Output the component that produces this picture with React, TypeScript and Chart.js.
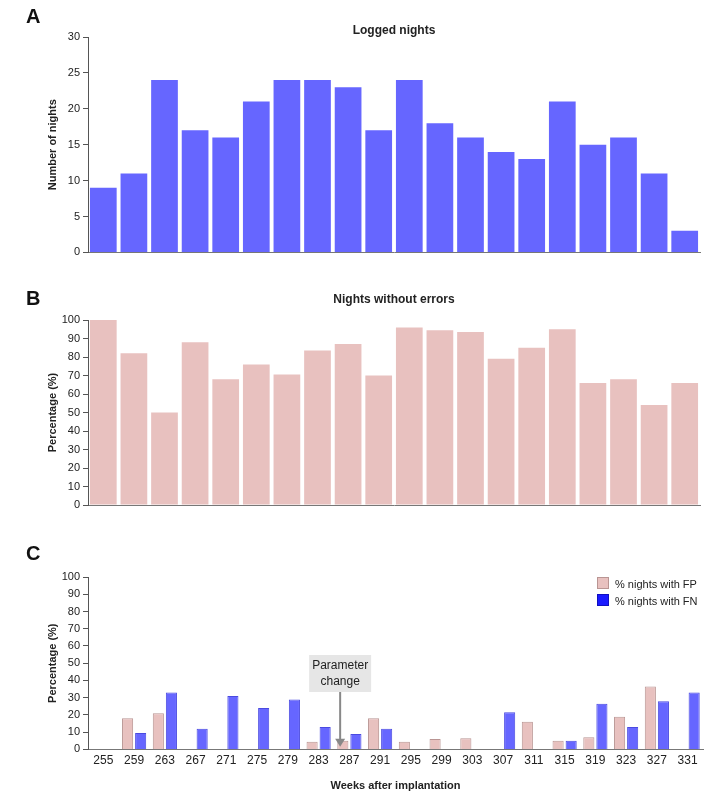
import React, { useEffect, useRef } from "react";
import { Chart, registerables } from "chart.js";
Chart.register(...registerables);

const weeks = ["255","259","263","267","271","275","279","283","287","291","295","299","303","307","311","315","319","323","327","331"];
const loggedNights = [9,11,24,17,16,21,24,24,23,17,24,18,16,14,13,21,15,16,11,3];
const noErrorPct = [100,82,50,88,68,76,70.5,83.5,87,70,96,94.5,93.5,79,85,95,66,68,54,66];
const fpPct = [0,18,21,0,0,0,0,4.5,5,18,4.5,6,6.5,0,16,5,7,19,36.5,0];
const fnPct = [0,9.5,33,12,31,24,29,13,9,12,0,0,0,21.5,0,5,26.5,13,28,33];

const FONT = "'Liberation Sans', Arial, sans-serif";
const BLUE = "#6666ff";
const PINK = "#e8c1bf";

function yScale(max: number, step: number, title: string) {
  return {
    min: 0, max,
    ticks: { stepSize: step, color: "#222", font: { family: FONT, size: 11 }, padding: 3 },
    grid: { display: true, drawOnChartArea: false, drawTicks: true, tickLength: 5, color: "#555" },
    border: { display: true, color: "#555" },
    title: { display: true, text: title, color: "#222", font: { family: FONT, size: 11, weight: "bold" as const }, padding: 2 },
    afterFit: (s: any) => { s.width = 44; },
  };
}

function xScale(showTicks: boolean, title?: string) {
  return {
    ticks: { display: showTicks, color: "#222", font: { family: FONT, size: 12 }, padding: 4, autoSkip: false, maxRotation: 0 },
    grid: { display: false, drawTicks: false },
    border: { display: true, color: "#777" },
    title: { display: !!title, text: title || "", color: "#222", font: { family: FONT, size: 11, weight: "bold" as const }, padding: { top: 8 } },
  };
}

const annotation = {
  id: "paramChange",
  afterDatasetsDraw(chart: any) {
    const xs = chart.scales.x, ys = chart.scales.y, ctx = chart.ctx;
    const cw = xs.getPixelForValue(9) - xs.getPixelForValue(8);
    const ax = xs.getPixelForValue(8) - 0.3 * cw;
    const top = ys.getPixelForValue(42) - 22;
    const bh = 37, bw = 62;
    ctx.save();
    ctx.fillStyle = "#e6e6e6";
    ctx.fillRect(ax - bw / 2, top, bw, bh);
    ctx.fillStyle = "#222";
    ctx.font = `12px ${FONT}`;
    ctx.textAlign = "center";
    ctx.textBaseline = "middle";
    ctx.fillText("Parameter", ax, top + 11);
    ctx.fillText("change", ax, top + 27);
    const yEnd = ys.getPixelForValue(1.5);
    ctx.strokeStyle = "#888";
    ctx.lineWidth = 2;
    ctx.beginPath();
    ctx.moveTo(ax, top + bh);
    ctx.lineTo(ax, yEnd - 6);
    ctx.stroke();
    ctx.fillStyle = "#888";
    ctx.beginPath();
    ctx.moveTo(ax - 5, yEnd - 8);
    ctx.lineTo(ax + 5, yEnd - 8);
    ctx.lineTo(ax, yEnd);
    ctx.closePath();
    ctx.fill();
    ctx.restore();
  },
};

function useChart(ref: React.RefObject<HTMLCanvasElement>, make: () => any) {
  useEffect(() => {
    const c = new Chart(ref.current as HTMLCanvasElement, make());
    return () => c.destroy();
  }, []);
}

const baseOpts = (pad: any) => ({
  animation: false,
  responsive: false,
  layout: { padding: pad },
  plugins: { legend: { display: false }, tooltip: { enabled: false } },
});

export default function App() {
  const a = useRef<HTMLCanvasElement>(null);
  const b = useRef<HTMLCanvasElement>(null);
  const c = useRef<HTMLCanvasElement>(null);

  useChart(a, () => ({
    type: "bar",
    data: { labels: weeks, datasets: [{ data: loggedNights, backgroundColor: BLUE, categoryPercentage: 0.9, barPercentage: 0.97 }] },
    options: { ...baseOpts({ left: 44, top: 37, right: 17, bottom: 9 }), scales: { x: xScale(false), y: yScale(30, 5, "Number of nights") } },
  }));
  useChart(b, () => ({
    type: "bar",
    data: { labels: weeks, datasets: [{ data: noErrorPct, backgroundColor: PINK, categoryPercentage: 0.9, barPercentage: 0.97 }] },
    options: { ...baseOpts({ left: 44, top: 58, right: 17, bottom: 20 }), scales: { x: xScale(false), y: yScale(100, 10, "Percentage (%)") } },
  }));
  useChart(c, () => ({
    type: "bar",
    data: {
      labels: weeks,
      datasets: [
        { data: fpPct, backgroundColor: PINK, borderColor: "#b99593", borderWidth: 1, categoryPercentage: 0.85, barPercentage: 0.85 },
        { data: fnPct, backgroundColor: BLUE, borderColor: "#4a4ae0", borderWidth: 1, categoryPercentage: 0.85, barPercentage: 0.85 },
      ],
    },
    options: { ...baseOpts({ left: 44, top: 52, right: 14, bottom: 6 }), scales: { x: xScale(true, "Weeks after implantation"), y: yScale(100, 10, "Percentage (%)") } },
    plugins: [annotation],
  }));

  const letter: React.CSSProperties = { position: "absolute", left: 26, fontFamily: FONT, fontWeight: "bold", fontSize: 20, color: "#111" };
  const title: React.CSSProperties = { position: "absolute", left: 88, width: 612, textAlign: "center", fontFamily: FONT, fontWeight: "bold", fontSize: 12, color: "#222" };
  const sw = (col: string, border: string): React.CSSProperties => ({ display: "inline-block", width: 10, height: 10, background: col, border: `1px solid ${border}`, marginRight: 6, verticalAlign: "-1px" });

  return (
    <div style={{ position: "fixed", left: 0, top: 0, width: 717, height: 803, background: "#fff", overflow: "hidden" }}>
      <canvas ref={a} width={717} height={262} style={{ position: "absolute", left: 0, top: 0 }} />
      <canvas ref={b} width={717} height={263} style={{ position: "absolute", left: 0, top: 262 }} />
      <canvas ref={c} width={717} height={278} style={{ position: "absolute", left: 0, top: 525 }} />
      <div style={{ ...letter, top: 5 }}>A</div>
      <div style={{ ...letter, top: 287 }}>B</div>
      <div style={{ ...letter, top: 542 }}>C</div>
      <div style={{ ...title, top: 23 }}>Logged nights</div>
      <div style={{ ...title, top: 292 }}>Nights without errors</div>
      <div style={{ position: "absolute", left: 597, top: 576, fontFamily: FONT, fontSize: 11, color: "#222", lineHeight: "17px" }}>
        <div><span style={sw(PINK, "#b99593")} />% nights with FP</div>
        <div><span style={sw("#1a1aff", "#1010c0")} />% nights with FN</div>
      </div>
    </div>
  );
}
